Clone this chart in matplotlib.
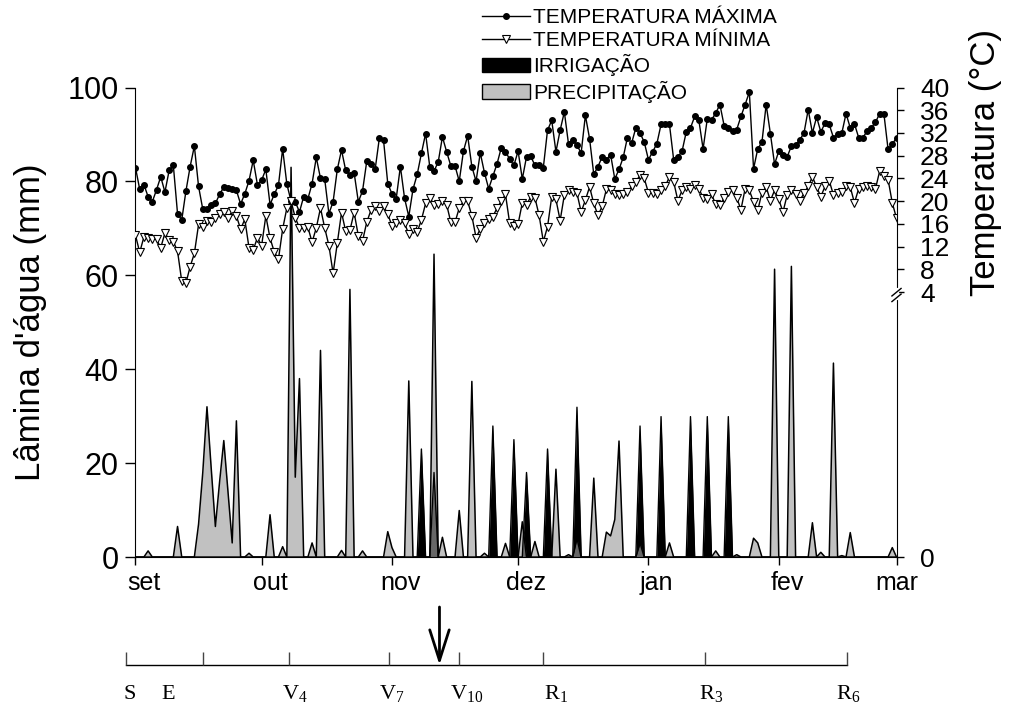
import numpy as np
import matplotlib
matplotlib.use("Agg")
import matplotlib.pyplot as plt
import matplotlib.transforms as mtransforms
from matplotlib.lines import Line2D
from matplotlib.patches import Patch

plt.rcParams['font.family'] = ['Liberation Sans', 'DejaVu Sans']
plt.rcParams['mathtext.fontset'] = 'custom'
plt.rcParams['mathtext.rm'] = 'Liberation Serif'
plt.rcParams['mathtext.it'] = 'Liberation Serif:italic'

# days counted from 1 September
months = ['set', 'out', 'nov', 'dez', 'jan', 'fev', 'mar']
month_days = [0, 30, 61, 91, 122, 153, 181]

t_max = [
    25.9, 22.1, 22.9, 20.8, 19.9, 22.0, 24.3, 21.6, 25.4, 26.3,
    17.8, 16.7, 21.8, 26.1, 29.7, 22.6, 18.6, 18.6, 19.4, 19.6,
    21.2, 22.5, 22.3, 22.1, 21.9, 19.5, 21.3, 23.6, 27.2, 22.9,
    23.7, 25.6, 19.4, 21.2, 22.8, 29.2, 23.0, 20.0, 19.9, 18.1,
    20.8, 20.4, 23.1, 27.7, 24.0, 23.9, 17.8, 19.9, 25.6, 29.0,
    25.4, 24.6, 25.0, 19.9, 21.8, 27.0, 26.6, 25.6, 31.1, 30.7,
    23.1, 21.3, 20.4, 26.1, 20.5, 17.3, 22.1, 24.7, 28.4, 31.9,
    26.0, 25.3, 26.9, 31.3, 28.7, 26.2, 26.2, 23.5, 28.8, 31.5,
    26.1, 23.5, 28.5, 25.0, 22.2, 24.4, 26.6, 29.4, 28.7, 27.4,
    26.3,
    28.8, 23.9, 27.8, 27.9, 26.3, 26.3, 25.9, 32.5, 34.2, 28.7,
    32.5, 35.7, 30.0, 30.8, 29.8, 28.5, 35.1, 31.0, 24.7, 26.1,
    27.8, 27.3, 28.2, 23.9, 25.6, 27.7, 31.2, 30.2, 32.9, 32.0,
    30.4, 27.3, 28.7, 30.1, 33.5, 33.5, 33.5, 27.3, 27.8, 28.8,
    32.2, 32.9, 34.9, 34.2, 29.2, 34.5, 34.3, 35.5, 37.0, 33.3,
    32.8, 32.3, 32.6, 34.9, 37.0, 39.2, 25.7, 29.2, 30.4, 37.0,
    31.9, 26.5, 28.8, 28.1, 27.8, 29.7, 29.8, 30.8, 32.0, 36.1,
    32.0, 34.8, 32.2, 33.7, 33.5, 31.2, 31.8, 32.0, 35.4, 32.9,
    33.6, 31.2, 31.2, 32.3, 32.9, 33.9, 35.4, 35.4, 29.1, 30.0,
    31.2,
]

t_min = [
    14.0, 11.0, 13.7, 13.5, 13.3, 13.3, 11.8, 14.4, 13.2, 12.9,
    11.2, 5.9, 5.6, 8.5, 10.8, 15.9, 15.5, 16.5, 16.4, 17.1,
    17.7, 18.1, 17.1, 18.2, 17.4, 15.1, 16.8, 11.8, 11.4, 13.6,
    12.2, 17.4, 13.5, 11.1, 9.8, 15.1, 18.8, 20.0, 17.1, 15.3,
    15.3, 15.4, 12.8, 15.3, 18.8, 15.3, 12.2, 7.3, 12.6, 18.0,
    14.7, 14.9, 18.0, 13.9, 13.0, 16.3, 18.4, 19.2, 18.2, 19.2,
    17.7, 15.7, 16.1, 16.7, 16.1, 14.2, 15.1, 14.6, 16.7, 19.6,
    20.6, 19.4, 19.5, 20.0, 19.4, 16.3, 16.3, 18.8, 20.0, 20.0,
    17.4, 13.6, 15.1, 16.1, 16.8, 17.3, 18.8, 20.0, 21.2, 16.1,
    15.7,
    16.0, 19.7, 19.3, 20.8, 20.6, 17.5, 12.9, 15.5, 20.8, 20.3,
    16.6, 21.1, 21.9, 21.6, 21.4, 18.1, 20.2, 22.5, 19.6, 17.5,
    19.1, 22.1, 21.9, 21.2, 21.1, 21.2, 21.6, 22.6, 23.4, 24.6,
    24.0, 21.5, 21.4, 21.2, 21.9, 22.6, 24.3, 23.4, 20.1, 21.9,
    22.5, 22.2, 22.8, 22.2, 20.6, 20.3, 21.2, 19.5, 19.3, 20.6,
    21.6, 21.9, 20.6, 18.5, 22.2, 21.9, 19.9, 18.4, 21.5, 22.5,
    20.1, 21.9, 20.3, 18.1, 21.1, 21.9, 21.2, 20.1, 21.4, 22.6,
    24.3, 22.5, 20.8, 22.6, 23.6, 21.1, 21.4, 21.6, 22.6, 22.5,
    19.7, 22.2, 22.5, 22.6, 22.5, 22.2, 25.3, 24.4, 23.8, 19.7,
    17.0,
]

rain_days = [3, 10, 15, 16, 17, 18, 19, 20, 21, 22, 23, 24, 27, 32, 35,
             37, 38, 39, 42, 44, 49, 51, 54, 60, 61, 65, 71, 73, 77, 80,
             83, 88, 92, 95, 100, 103, 105, 109, 112, 113, 114, 115, 120,
             127, 138, 143, 147, 148, 152, 156, 161, 163, 166, 168, 170, 180]
rain_mm = [1.3, 6.5, 7, 18, 32, 19, 6.5, 16, 24.8, 14, 3, 29, 0.8, 9, 2.2,
           83, 17, 38, 3, 44, 1.4, 57, 1.3, 5.4, 2, 37.5, 64.5, 4.2, 9.9, 37.4,
           0.8, 2.9, 7.5, 3.3, 18.7, 0.5, 4, 16.8, 5.3, 4.5, 8, 24.7, 3,
           3, 1.3, 0.5, 4, 3, 61.3, 61.9, 7.3, 1, 41.3, 0.3, 5.2, 2]

irr_days = [68, 71, 85, 90, 93, 98, 105, 120, 125, 132, 136, 141]
irr_mm = [23, 18, 27.9, 25, 18, 23, 31.9, 27.9, 29.9, 29.9, 29.9, 29.9]

stage_tick_days = [-2.3, 16.1, 36.5, 60.4, 77.0, 97.0, 135.4, 169.2]
stage_labels = ['S', 'E', r'$\mathrm{V}_{4}$', r'$\mathrm{V}_{7}$', r'$\mathrm{V}_{10}$',
                r'$\mathrm{R}_{1}$', r'$\mathrm{R}_{3}$', r'$\mathrm{R}_{6}$']
stage_label_days = [-1.3, 7.7, 38.0, 61.0, 78.7, 99.9, 136.8, 169.4]
arrow_day = 72.3

temp_ticks = [4, 8, 12, 16, 20, 24, 28, 32, 36, 40]

days = np.arange(len(t_max))
rain = np.zeros(len(days))
rain[rain_days] = rain_mm
irr = np.zeros(len(days))
irr[irr_days] = irr_mm

fig = plt.figure(figsize=(10.12, 7.02), dpi=100)
ax = fig.add_axes([0.13389, 0.20655, 0.75198, 0.66880])

ax.fill_between(days, irr, color='black', lw=0)
ax.plot(days, irr, color='black', lw=1)
ax.fill_between(days, rain, color='#a0a0a0', alpha=0.65, lw=0)
ax.plot(days, rain, color='black', lw=1.1)

ax.set_xlim(0, 181)
ax.set_ylim(0, 100)
ax.set_yticks(range(0, 101, 20))
ax.set_xticks(month_days)
ax.set_xticklabels(months)
ax.tick_params(axis='y', direction='out', length=7, width=1, labelsize=22, pad=5)
ax.tick_params(axis='x', direction='out', length=6, width=1, labelsize=18, pad=4)
shift = mtransforms.ScaledTranslation(6 / 72, 0, fig.dpi_scale_trans)
for lab in ax.get_xticklabels()[:-1]:
    lab.set_transform(lab.get_transform() + shift)
ax.spines['top'].set_visible(False)
ax.spines['right'].set_visible(False)
ax.set_ylabel("Lâmina d'água (mm)", fontsize=25)
ax.yaxis.set_label_coords(-0.116, 0.5)

# temperature on a broken right axis
ax2 = ax.twinx()
ax2.plot(days, t_max, '-o', color='black', ms=4, lw=1)
ax2.plot(days, t_min, '-v', color='black', mfc='white', mec='black', ms=6, mew=0.8, lw=1)
bottom_t = -42.6
ax2.set_ylim(bottom_t, 40)
ax2.set_yticks([bottom_t] + temp_ticks)
ax2.set_yticklabels(['0'] + [str(t) for t in temp_ticks])
ax2.tick_params(axis='y', direction='out', length=5, width=1, labelsize=19, pad=12)
for s in ['top', 'left', 'bottom']:
    ax2.spines[s].set_visible(False)
yb = 0.556
ax2.plot([1, 1], [yb - 0.004, yb + 0.012], transform=ax2.transAxes, color='white',
         lw=3, clip_on=False, zorder=4)
for dy in [0.0, 0.012]:
    ax2.plot([1 - 0.006, 1 + 0.006], [yb - 0.012 + dy, yb + 0.004 + dy],
             transform=ax2.transAxes, color='black', lw=1, clip_on=False, zorder=5)
fig.text(986 / 1012, 1 - 162 / 702, 'Temperatura (°C)', rotation=90,
         ha='center', va='center', fontsize=25)

handles = [
    Line2D([], [], color='black', marker='o', ms=4, lw=1),
    Line2D([], [], color='black', marker='v', mfc='white', ms=6, mew=0.8, lw=1),
    Patch(facecolor='black', edgecolor='black'),
    Patch(facecolor='#c0c0c0', edgecolor='black'),
]
labels = ['TEMPERATURA MÁXIMA', 'TEMPERATURA MÍNIMA', 'IRRIGAÇÃO', 'PRECIPITAÇÃO']
fig.legend(handles, labels, loc='upper left', bbox_to_anchor=(482 / 1012, 1 - 8 / 702),
           frameon=False, fontsize=15, handlelength=2.3, handletextpad=0.15,
           labelspacing=0.2, borderpad=0, borderaxespad=0)

# phenological stages bar
axs = fig.add_axes([0.13389, 0, 0.75198, 102 / 702])
axs.set_xlim(0, 181)
axs.set_ylim(0, 102)
axs.axis('off')
axs.plot([stage_tick_days[0], stage_tick_days[-1]], [37, 37], color='black', lw=1, clip_on=False)
axs.vlines(stage_tick_days, 37, 50, colors='#444444', lw=1, clip_on=False)
axs.annotate('', xy=(arrow_day, 37), xytext=(arrow_day, 95),
             arrowprops=dict(arrowstyle='->,head_length=2.2,head_width=0.7', lw=2,
                             color='black', shrinkA=0, shrinkB=0))
for d, lab in zip(stage_label_days, stage_labels):
    axs.text(d, 3, lab, ha='center', va='baseline', fontsize=16,
             family='Liberation Serif', clip_on=False)

fig.savefig('out.png', dpi=100)
